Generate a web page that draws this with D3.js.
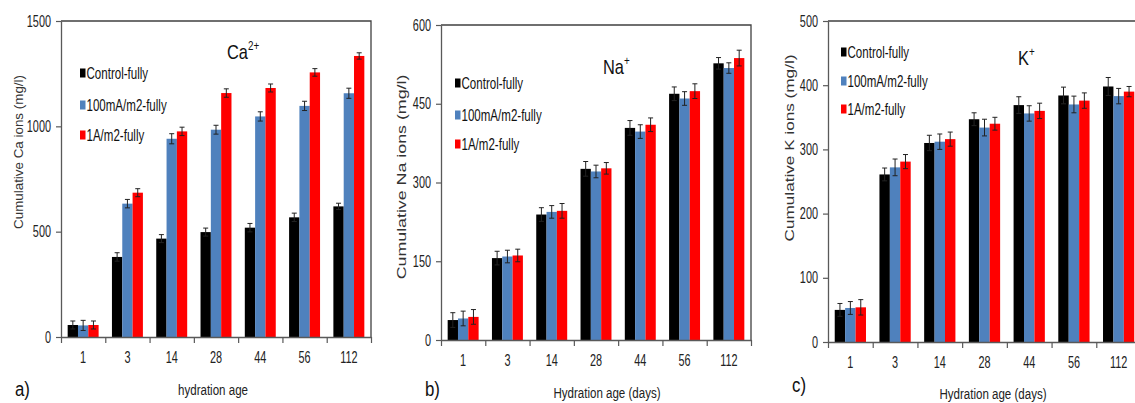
<!DOCTYPE html>
<html>
<head>
<meta charset="utf-8">
<script src="https://cdn.jsdelivr.net/npm/d3@7/dist/d3.min.js"></script>
<style>
  html, body { margin: 0; padding: 0; background: #fff; }
  svg { display: block; font-family: "Liberation Sans", Arial, sans-serif; }
</style>
</head>
<body>
<svg id="chart" width="1135" height="403"></svg>
<script>
// Hydration ages (days) shared by all three panels
const ages = ["1", "3", "14", "28", "44", "56", "112"];
const seriesNames = ["Control-fully", "100mA/m2-fully", "1A/m2-fully"];
const seriesColors = ["#000000", "#4f81bd", "#ff0000"];

// Cumulative Ca ions (mg/l)
const caControl = [57, 380, 467, 498, 519, 568, 620];
const ca100mA   = [55, 633, 941, 984, 1047, 1097, 1157];
const ca1A      = [57, 685, 976, 1158, 1182, 1256, 1334];
const caControlErr = [19, 20, 19, 19, 20, 20, 15];
const ca100mAErr   = [24, 20, 24, 21, 22, 22, 24];
const ca1AErr      = [19, 19, 20, 20, 19, 18, 15];
const caTicks = [0, 500, 1000, 1500];

// Cumulative Na ions (mg/l)
const naControl = [38, 156, 239, 326, 404, 469, 527];
const na100mA   = [41, 159, 244, 321, 397, 460, 518];
const na1A      = [44, 161, 246, 327, 410, 474, 537];
const naControlErr = [14, 13, 13, 14, 14, 13, 11];
const na100mAErr   = [14, 12, 12, 12, 13, 13, 10];
const na1AErr      = [14, 12, 14, 11, 13, 14, 15];
const naTicks = [0, 150, 300, 450, 600];

// Cumulative K ions (mg/l)
const kControl = [50, 261, 310, 347, 369, 384, 398];
const k100mA   = [53, 272, 312, 334, 356, 370, 383];
const k1A      = [54, 281, 316, 340, 360, 376, 390];
const kControlErr = [10, 10, 12, 10, 13, 13, 14];
const k100mAErr   = [10, 13, 12, 13, 12, 13, 12];
const k1AErr      = [12, 11, 11, 10, 12, 12, 8];
const kTicks = [0, 100, 200, 300, 400, 500];

const svg = d3.select("#chart");

// Places a text at (x, y) with a horizontal stretch factor (and optional rotation)
function placeText(sel, x, y, sx, rot) {
  sel.attr("x", 0).attr("y", 0)
     .attr("transform", `translate(${x},${y})` + (rot ? ` rotate(${rot})` : "") + ` scale(${sx},1)`);
  return sel;
}

const panels = [
  {
    left: 61, right: 371, top: 21, bottom: 337, yMax: 1500, ticks: caTicks,
    values: [caControl, ca100mA, ca1A], errors: [caControlErr, ca100mAErr, ca1AErr],
    yTitle: "Cumulative Ca ions (mg/l)", yTitleX: 19, yTitleY: 152, yTitleSx: 1.03,
    xTitle: "hydration age", xTitleX: 213, xTitleY: 395,
    ion: "Ca", sup: "2+", ionX: 227, ionY: 59,
    letter: "a)", letterX: 15, letterY: 396,
    legendX: 80, legendY: [73, 105, 135]
  },
  {
    left: 441, right: 751, top: 25, bottom: 340, yMax: 600, ticks: naTicks,
    values: [naControl, na100mA, na1A], errors: [naControlErr, na100mAErr, na1AErr],
    yTitle: "Cumulative Na ions (mg/l)", yTitleX: 401, yTitleY: 177, yTitleSx: 1.37,
    xTitle: "Hydration age (days)", xTitleX: 607, xTitleY: 398,
    ion: "Na", sup: "+", ionX: 603, ionY: 74,
    letter: "b)", letterX: 425, letterY: 396,
    legendX: 455, legendY: [83, 115, 144]
  },
  {
    left: 828, right: 1141, top: 21, bottom: 342, yMax: 500, ticks: kTicks,
    values: [kControl, k100mA, k1A], errors: [kControlErr, k100mAErr, k1AErr],
    yTitle: "Cumulative K ions (mg/l)", yTitleX: 789, yTitleY: 148, yTitleSx: 1.32,
    xTitle: "Hydration age (days)", xTitleX: 993, xTitleY: 399,
    ion: "K", sup: "+", ionX: 1018, ionY: 65,
    letter: "c)", letterX: 792, letterY: 392,
    legendX: 841, legendY: [52, 81, 109]
  }
];

const axisColor = "#595959";
const frameColor = "#404040";

panels.forEach(p => {
  const g = svg.append("g");
  const x = d3.scaleBand().domain(ages).range([p.left, p.right]).paddingInner(0).paddingOuter(0);
  const y = d3.scaleLinear().domain([0, p.yMax]).range([p.bottom, p.top]);
  const bw = x.bandwidth() * 0.233;
  const inner = d3.scaleBand().domain(d3.range(seriesNames.length))
    .range([(x.bandwidth() - 3 * bw) / 2, (x.bandwidth() + 3 * bw) / 2]);

  // bars
  p.values.forEach((vals, si) => {
    g.append("g").selectAll("rect").data(vals).join("rect")
      .attr("x", (d, i) => x(ages[i]) + inner(si))
      .attr("y", d => y(d))
      .attr("width", inner.bandwidth())
      .attr("height", d => y(0) - y(d))
      .attr("fill", seriesColors[si]);
  });

  // error bars
  p.values.forEach((vals, si) => {
    const eg = g.append("g").attr("stroke", "#222").attr("stroke-width", 1).attr("fill", "none");
    vals.forEach((v, i) => {
      const cx = x(ages[i]) + inner(si) + inner.bandwidth() / 2;
      const e = p.errors[si][i];
      eg.append("line").attr("x1", cx).attr("x2", cx).attr("y1", y(v - e)).attr("y2", y(v + e));
      eg.append("line").attr("x1", cx - 2.5).attr("x2", cx + 2.5).attr("y1", y(v + e)).attr("y2", y(v + e));
      eg.append("line").attr("x1", cx - 2.5).attr("x2", cx + 2.5).attr("y1", y(v - e)).attr("y2", y(v - e));
    });
  });

  // plot frame (top and right edges)
  g.append("path")
    .attr("d", `M${p.left},${p.top}H${p.right}V${p.bottom}`)
    .attr("fill", "none").attr("stroke", frameColor).attr("stroke-width", 1.3);

  // y axis
  const yAxis = g.append("g").attr("transform", `translate(${p.left},0)`)
    .call(d3.axisLeft(y).tickValues(p.ticks).tickFormat(d3.format("d")).tickSize(5).tickSizeOuter(0));
  yAxis.select(".domain").attr("stroke", axisColor).attr("stroke-width", 1.3);
  yAxis.selectAll(".tick line").attr("stroke", axisColor).attr("stroke-width", 1.2);
  yAxis.selectAll(".tick text").each(function () {
    const t = d3.select(this);
    t.attr("dy", "0.32em").attr("font-size", 16).attr("fill", "#222")
     .attr("font-family", "Liberation Sans, Arial, sans-serif");
    placeText(t, -10, 0, 0.68);
  });

  // x axis: tick marks at category boundaries
  const xb = d3.scaleLinear().domain([0, ages.length]).range([p.left, p.right]);
  const xTicks = g.append("g").attr("transform", `translate(0,${p.bottom})`)
    .call(d3.axisBottom(xb).ticks(ages.length).tickSize(6).tickSizeOuter(0).tickFormat(""));
  xTicks.select(".domain").attr("stroke", axisColor).attr("stroke-width", 1.3);
  xTicks.selectAll(".tick line").attr("stroke", axisColor).attr("stroke-width", 1.2);

  // x axis: category labels centered in each band
  const xLabels = g.append("g").attr("transform", `translate(0,${p.bottom})`)
    .call(d3.axisBottom(x).tickSize(0).tickPadding(15));
  xLabels.select(".domain").remove();
  xLabels.selectAll(".tick text").each(function () {
    const t = d3.select(this);
    t.attr("dy", "0.71em").attr("font-size", 16).attr("fill", "#222")
     .attr("font-family", "Liberation Sans, Arial, sans-serif");
    placeText(t, 0, 15, 0.68);
  });

  // axis titles
  placeText(g.append("text").text(p.yTitle)
    .attr("font-size", 13).attr("fill", "#333").attr("text-anchor", "middle")
    .attr("dominant-baseline", "central"), p.yTitleX, p.yTitleY, p.yTitleSx, -90);
  placeText(g.append("text").text(p.xTitle)
    .attr("font-size", 15).attr("fill", "#222").attr("text-anchor", "middle"),
    p.xTitleX, p.xTitleY, 0.77);

  // ion label with superscript charge
  const ion = placeText(g.append("text").attr("font-size", 20).attr("fill", "#111"),
    p.ionX, p.ionY, 0.82);
  ion.append("tspan").text(p.ion);
  ion.append("tspan").text(p.sup).attr("font-size", 12).attr("dy", -9);

  // panel letter
  placeText(g.append("text").text(p.letter).attr("font-size", 21).attr("fill", "#111"),
    p.letterX, p.letterY, 0.8);

  // legend
  seriesNames.forEach((name, si) => {
    const ly = p.legendY[si];
    g.append("rect").attr("x", p.legendX).attr("y", ly - 4.5)
      .attr("width", 5.5).attr("height", 9).attr("fill", seriesColors[si]);
    placeText(g.append("text").text(name).attr("font-size", 17).attr("fill", "#111")
      .attr("dominant-baseline", "central"), p.legendX + 6.5, ly, 0.68);
  });
});
</script>
</body>
</html>
